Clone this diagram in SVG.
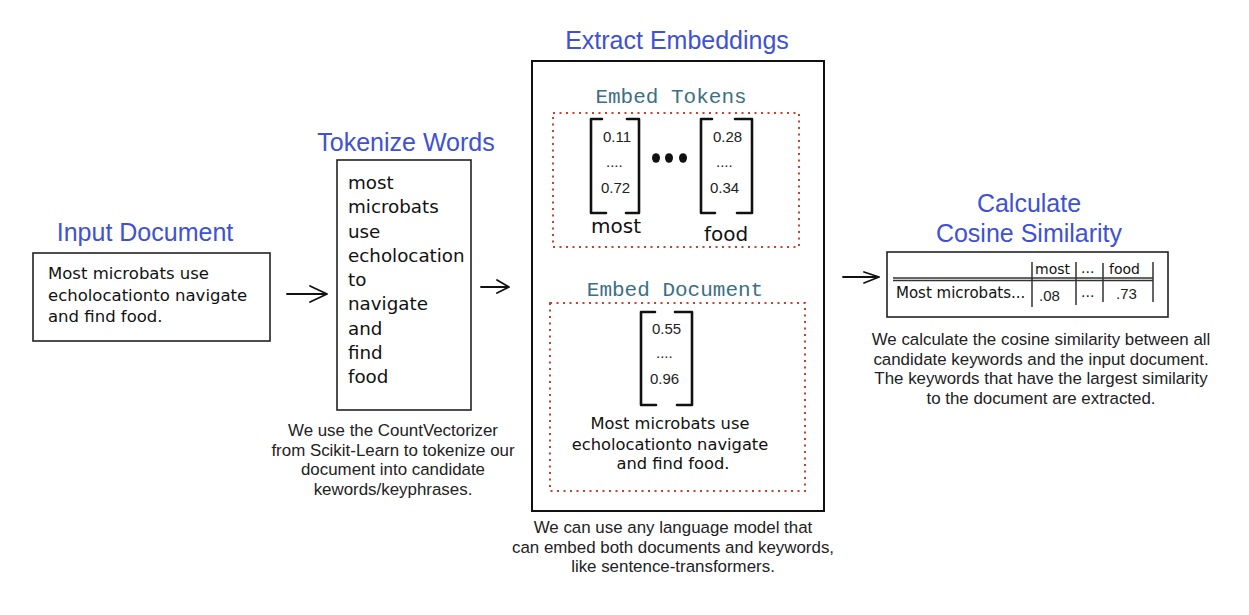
<svg xmlns="http://www.w3.org/2000/svg" width="1249" height="615" viewBox="0 0 1249 615">
<style>
.title{font-family:"Liberation Sans",Arial,sans-serif;font-size:25px;fill:#4051d3;text-anchor:middle}
.cap{font-family:"Liberation Sans",Arial,sans-serif;font-size:16.9px;fill:#222;text-anchor:middle}
.hand{font-family:"DejaVu Sans",sans-serif;fill:#111}
.num{font-family:"Liberation Sans",Arial,sans-serif;font-size:15px;fill:#222}
.mono{font-family:"Liberation Mono","DejaVu Sans Mono",monospace;font-size:21px;fill:#3b6f84;text-anchor:middle}
.box{fill:#fff;stroke:#222;stroke-width:1.6}
.dot{fill:none;stroke:#c8402f;stroke-width:2;stroke-dasharray:2 4.5}
.br{fill:none;stroke:#111;stroke-width:2.6;stroke-linecap:round;stroke-linejoin:round}
.arr{fill:none;stroke:#111;stroke-width:1.8;stroke-linecap:round;stroke-linejoin:round}
.tl{stroke:#333;stroke-width:1.5;fill:none}
</style>
<rect width="1249" height="615" fill="#fff"/>

<g id="connectors">
  <path class="arr" d="M287 294 L327 294 M310 286 L327 294 L310 302"/>
  <path class="arr" d="M481 287 L509 287 M497 280 L509 287 L497 293"/>
  <path class="arr" d="M843 277 L879 277 M864 272 L879 277 L864 283"/>
</g>

<g id="input-document">
  <text class="title" x="145" y="241">Input Document</text>
  <rect class="box" x="33" y="253" width="237" height="88"/>
  <text class="hand" font-size="16.5" x="48" y="279">Most microbats use</text>
  <text class="hand" font-size="16.5" x="48" y="301">echolocationto navigate</text>
  <text class="hand" font-size="16.5" x="48" y="322">and find food.</text>
</g>

<g id="tokenize-words">
  <text class="title" x="406" y="151">Tokenize Words</text>
  <rect class="box" x="337" y="160" width="134" height="250"/>
  <g class="hand" font-size="18.3">
    <text x="348" y="189">most</text>
    <text x="348" y="213">microbats</text>
    <text x="348" y="238">use</text>
    <text x="348" y="262">echolocation</text>
    <text x="348" y="286">to</text>
    <text x="348" y="310">navigate</text>
    <text x="348" y="335">and</text>
    <text x="348" y="359">find</text>
    <text x="348" y="383">food</text>
  </g>
  <text class="cap" x="393" y="436">We use the CountVectorizer</text>
  <text class="cap" x="393" y="456">from Scikit-Learn to tokenize our</text>
  <text class="cap" x="393" y="475">document into candidate</text>
  <text class="cap" x="393" y="495">kewords/keyphrases.</text>
</g>

<g id="extract-embeddings">
  <text class="title" x="677" y="49">Extract Embeddings</text>
  <rect x="532" y="61" width="292" height="450" fill="#fff" stroke="#111" stroke-width="2"/>
  <text class="cap" x="673" y="533">We can use any language model that</text>
  <text class="cap" x="673" y="553">can embed both documents and keywords,</text>
  <text class="cap" x="673" y="572">like sentence-transformers.</text>
</g>

<g id="embed-tokens">
  <text class="mono" x="671" y="103">Embed Tokens</text>
  <rect class="dot" x="553" y="113" width="246" height="134"/>
  <path class="br" d="M602 119 L591 119 L591 213 L606 213 M627 119 L639 119 L639 213 L626 213"/>
  <text class="num" x="603" y="142">0.11</text>
  <text class="num" x="606" y="167">....</text>
  <text class="num" x="601" y="193">0.72</text>
  <ellipse cx="656" cy="158" rx="4" ry="4.8" fill="#111"/>
  <ellipse cx="669" cy="158" rx="4" ry="4.8" fill="#111"/>
  <ellipse cx="683" cy="158" rx="4" ry="4.8" fill="#111"/>
  <path class="br" d="M712 119 L701 119 L701 213 L715 213 M735 119 L752 119 L752 213 L737 213"/>
  <text class="num" x="713" y="142">0.28</text>
  <text class="num" x="716" y="167">....</text>
  <text class="num" x="710" y="193">0.34</text>
  <text class="hand" font-size="20" x="591" y="233">most</text>
  <text class="hand" font-size="20" x="704" y="241">food</text>
</g>

<g id="embed-document">
  <text class="mono" x="675" y="296">Embed Document</text>
  <rect class="dot" x="550" y="303" width="255" height="188"/>
  <path class="br" d="M655 312 L641 312 L641 405 L656 405 M675 312 L692 312 L692 405 L677 405"/>
  <text class="num" x="652" y="334">0.55</text>
  <text class="num" x="656" y="358">....</text>
  <text class="num" x="650" y="384">0.96</text>
  <g class="hand" font-size="16.3" text-anchor="middle">
    <text x="670" y="429">Most microbats use</text>
    <text x="670" y="450">echolocationto navigate</text>
    <text x="673" y="469">and find food.</text>
  </g>
</g>

<g id="cosine-similarity">
  <text class="title" x="1029" y="212">Calculate</text>
  <text class="title" x="1029" y="242">Cosine Similarity</text>
  <rect class="box" x="887" y="252" width="281" height="65"/>
  <path class="tl" d="M893 278 L1153 278 M893 280.5 L1153 280.5" stroke="#666"/>
  <path class="tl" d="M1032 262 L1032 307 M1076 262 L1076 305 M1103 263 L1103 302 M1153 262 L1153 302"/>
  <text class="hand" font-size="14" x="1035" y="274">most</text>
  <text class="hand" font-size="14" x="1081" y="273">...</text>
  <text class="hand" font-size="14" x="1109" y="274">food</text>
  <text class="hand" font-size="15" x="896" y="298">Most microbats...</text>
  <text class="num" font-size="17" x="1039" y="301">.08</text>
  <text class="hand" font-size="14" x="1081" y="297">...</text>
  <text class="num" font-size="17" x="1116" y="299">.73</text>
  <text class="cap" x="1041" y="345">We calculate the cosine similarity between all</text>
  <text class="cap" x="1041" y="365">candidate keywords and the input document.</text>
  <text class="cap" x="1041" y="384">The keywords that have the largest similarity</text>
  <text class="cap" x="1041" y="404">to the document are extracted.</text>
</g>
</svg>
